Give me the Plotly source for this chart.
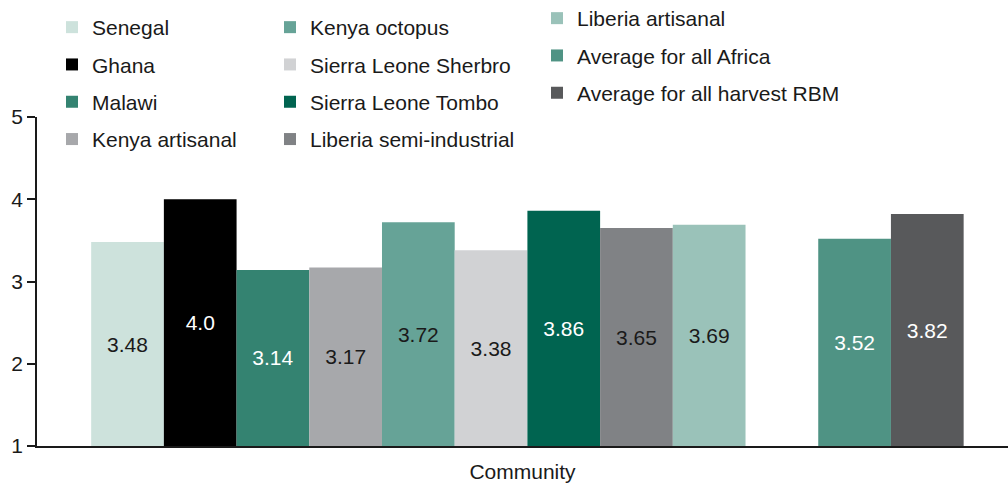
import plotly.graph_objects as go

names = ["Senegal", "Ghana", "Malawi", "Kenya artisanal", "Kenya octopus",
         "Sierra Leone Sherbro", "Sierra Leone Tombo", "Liberia semi-industrial",
         "Liberia artisanal", "Average for all Africa", "Average for all harvest RBM"]
values = [3.48, 4.0, 3.14, 3.17, 3.72, 3.38, 3.86, 3.65, 3.69, 3.52, 3.82]
labels = ["3.48", "4.0", "3.14", "3.17", "3.72", "3.38", "3.86", "3.65", "3.69", "3.52", "3.82"]
positions = [0, 1, 2, 3, 4, 5, 6, 7, 8, 10, 11]
colors = ["#cde2dc", "#000000", "#348371", "#a7a8ab", "#66a397", "#d1d2d4",
          "#006450", "#808285", "#9ac2b9", "#4f9384", "#58595b"]
text_colors = ["#1a1a1a", "#ffffff", "#ffffff", "#1a1a1a", "#1a1a1a", "#1a1a1a",
               "#ffffff", "#1a1a1a", "#1a1a1a", "#ffffff", "#ffffff"]
legend_ids = ["legend"] * 4 + ["legend2"] * 4 + ["legend3"] * 3

FONT = "Liberation Sans, Arial, Helvetica, sans-serif"
FS = 21
BASE = 1

fig = go.Figure()
for i, name in enumerate(names):
    fig.add_trace(go.Bar(
        x=[positions[i]], y=[values[i] - BASE], base=BASE, width=1,
        name=name, marker=dict(color=colors[i], line=dict(width=0)),
        text=[labels[i]], textposition="inside", insidetextanchor="middle",
        textangle=0, constraintext="none",
        textfont=dict(color=text_colors[i], size=FS, family=FONT),
        legend=legend_ids[i], legendgroup=name,
        hovertemplate=f"{name}: {labels[i]}<extra></extra>",
    ))

leg_common = dict(font=dict(size=FS, family=FONT, color="#1a1a1a"),
                  xanchor="left", yanchor="top",
                  orientation="v", tracegroupgap=7, bgcolor="rgba(0,0,0,0)")

fig.update_layout(
    width=1008, height=483,
    margin=dict(l=37, r=0, t=117, b=37, autoexpand=False),
    paper_bgcolor="white", plot_bgcolor="white",
    barmode="overlay",
    font=dict(family=FONT, size=FS, color="#1a1a1a"),
    showlegend=True,
    legend=dict(x=52 / 1008, y=1 - 7 / 483, xref="container", yref="container", **leg_common),
    legend2=dict(x=270 / 1008, y=1 - 7 / 483, xref="container", yref="container", **leg_common),
    legend3=dict(x=537 / 1008, y=448 / 329, xref="container", yref="paper", **leg_common),
    xaxis=dict(range=[-1.245, 12.11], showticklabels=False, ticks="",
               showgrid=False, zeroline=False, showline=True,
               linecolor="#1a1a1a", linewidth=1.5,
               title=dict(text="Community", standoff=18,
                          font=dict(size=FS, family=FONT, color="#1a1a1a"))),
    yaxis=dict(range=[1, 5], tickvals=[1, 2, 3, 4, 5], ticks="outside",
               ticklen=8, tickcolor="#1a1a1a", tickwidth=1.5,
               showgrid=False, zeroline=False, showline=True,
               linecolor="#1a1a1a", linewidth=1.5,
               tickfont=dict(size=FS, family=FONT, color="#1a1a1a")),
)

fig.write_html("out.html")
